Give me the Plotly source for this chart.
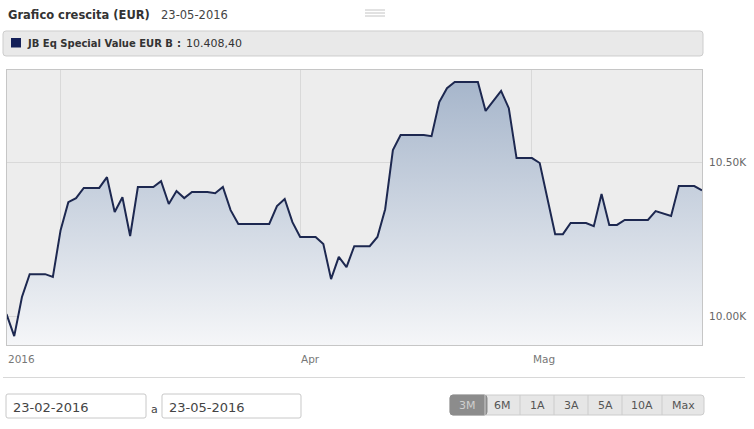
import pandas as pd
import plotly.graph_objects as go

# ---- data ----
start_date = "2016-02-23"
end_date = "2016-05-23"
values = [
    10006, 9935, 10062, 10136, 10136, 10136, 10127, 10279, 10370, 10383,
    10416, 10416, 10416, 10451, 10338, 10386, 10260, 10419, 10419, 10419,
    10438, 10364, 10406, 10383, 10403, 10403, 10403, 10399, 10419, 10344,
    10299, 10299, 10299, 10299, 10299, 10357, 10380, 10305, 10257, 10257,
    10257, 10234, 10120, 10192, 10159, 10227, 10227, 10227, 10257, 10347,
    10539, 10588, 10588, 10588, 10588, 10584, 10695, 10740, 10760, 10760,
    10760, 10760, 10666, 10698, 10731, 10675, 10513, 10513, 10513, 10497,
    10380, 10266, 10266, 10302, 10302, 10302, 10292, 10396, 10296, 10296,
    10312, 10312, 10312, 10312, 10341, 10334, 10325, 10422, 10422, 10422,
    10408.4,
]
dates = pd.date_range(start_date, end_date, freq="D")
x_tick_vals = ["2016-03-01", "2016-04-01", "2016-05-01"]
x_label_pos = ["2016-02-23", "2016-04-01", "2016-05-01"]
x_label_text = ["2016", "Apr", "Mag"]
y_tick_vals = [10000, 10500]
y_tick_text = ["10.00K", "10.50K"]
y_range = [9906, 10799]
series_name = "JB Eq Special Value EUR B"
last_value_text = "10.408,40"
title_text = "Grafico crescita (EUR)"
title_date = "23-05-2016"
from_date = "23-02-2016"
to_date = "23-05-2016"
buttons = ["3M", "6M", "1A", "3A", "5A", "10A", "Max"]

W, H = 754, 429
FONT = "DejaVu Sans"


def px(x):
    return x / W


def py(y):
    return 1 - y / H


def rrect(x0, y0, x1, y1, r):
    pts = [
        ("M", [(x0 + r, y0)]), ("L", [(x1 - r, y0)]), ("Q", [(x1, y0), (x1, y0 + r)]),
        ("L", [(x1, y1 - r)]), ("Q", [(x1, y1), (x1 - r, y1)]), ("L", [(x0 + r, y1)]),
        ("Q", [(x0, y1), (x0, y1 - r)]), ("L", [(x0, y0 + r)]), ("Q", [(x0, y0), (x0 + r, y0)]),
    ]
    s = ""
    for cmd, ps in pts:
        s += cmd + " " + " ".join(f"{px(a):.6f},{py(b):.6f}" for a, b in ps) + " "
    return s + "Z"


fig = go.Figure()
fig.add_trace(go.Scatter(
    x=dates, y=values, mode="lines",
    line=dict(color="#1d2850", width=2),
    fill="tozeroy",
    fillgradient=dict(type="vertical",
                      colorscale=[[0, "#f5f6f8"], [1, "#a3b3c9"]],
                      start=y_range[0], stop=y_range[1]),
    hoverinfo="skip", showlegend=False,
))

shapes = []
annotations = []

# title
annotations.append(dict(xref="paper", yref="paper", x=px(6), y=py(14.5), xanchor="left", yanchor="middle",
                        text=f"<b>{title_text}</b>", showarrow=False,
                        font=dict(family=FONT, size=11.5, color="#333333")))
annotations.append(dict(xref="paper", yref="paper", x=px(159), y=py(14.5), xanchor="left", yanchor="middle",
                        text=title_date, showarrow=False,
                        font=dict(family=FONT, size=11.5, color="#444444")))
# menu icon
for yy in (10, 13, 16):
    shapes.append(dict(type="line", xref="paper", yref="paper", x0=px(365), x1=px(385), y0=py(yy), y1=py(yy),
                       line=dict(color="#c4c4c4", width=1)))

# legend box
shapes.append(dict(type="path", xref="paper", yref="paper", path=rrect(3, 31, 703, 56, 3),
                   fillcolor="#e9e9e9", line=dict(color="#cdcdcd", width=1)))
shapes.append(dict(type="rect", xref="paper", yref="paper", x0=px(11), x1=px(21), y0=py(38), y1=py(47.5),
                   fillcolor="#142059", line=dict(width=0)))
annotations.append(dict(xref="paper", yref="paper", x=px(25), y=py(43), xanchor="left", yanchor="middle",
                        text=f"<b>{series_name}</b>", showarrow=False,
                        font=dict(family=FONT, size=10, color="#333333")))
annotations.append(dict(xref="paper", yref="paper", x=px(179), y=py(43), xanchor="center", yanchor="middle",
                        text="<b>:</b>", showarrow=False,
                        font=dict(family=FONT, size=10, color="#333333")))
annotations.append(dict(xref="paper", yref="paper", x=px(184), y=py(43), xanchor="left", yanchor="middle",
                        text=last_value_text, showarrow=False,
                        font=dict(family=FONT, size=11, color="#333333")))

# x-axis labels
for pos, txt in zip(x_label_pos, x_label_text):
    annotations.append(dict(xref="x", yref="paper", x=pos, y=py(359), xanchor="left", yanchor="middle",
                            text=txt, showarrow=False, xshift=-1,
                            font=dict(family=FONT, size=10.5, color="#777777")))

# separator
shapes.append(dict(type="line", xref="paper", yref="paper", x0=px(3), x1=px(745), y0=py(377.5), y1=py(377.5),
                   line=dict(color="#d8d8d8", width=1)))

# date inputs
for (x0, x1), txt in zip([(6, 146), (162, 301)], [from_date, to_date]):
    shapes.append(dict(type="path", xref="paper", yref="paper", path=rrect(x0, 394, x1, 418, 2),
                       fillcolor="#ffffff", line=dict(color="#c8c8c8", width=1)))
    annotations.append(dict(xref="paper", yref="paper", x=px(x0 + 5), y=py(407), xanchor="left", yanchor="middle",
                            text=txt, showarrow=False,
                            font=dict(family=FONT, size=13, color="#444444")))
annotations.append(dict(xref="paper", yref="paper", x=px(154), y=py(409), xanchor="center", yanchor="middle",
                        text="a", showarrow=False, font=dict(family=FONT, size=11, color="#444444")))

# range buttons
bx = [450, 485, 520, 554, 588, 622, 662, 704]
shapes.append(dict(type="path", xref="paper", yref="paper", path=rrect(bx[0], 395, bx[-1], 415, 3),
                   fillcolor="#e6e6e6", line=dict(color="#cccccc", width=1)))
shapes.append(dict(type="path", xref="paper", yref="paper", path=rrect(bx[0], 395, bx[1] + 2, 415, 3),
                   fillcolor="#8c8c8c", line=dict(color="#8c8c8c", width=1)))
shapes.append(dict(type="rect", xref="paper", yref="paper", x0=px(bx[1] - 3), x1=px(bx[1]), y0=py(395.5), y1=py(414.5),
                   fillcolor="#8c8c8c", line=dict(width=0)))
for i, b in enumerate(buttons):
    if i > 0:
        shapes.append(dict(type="line", xref="paper", yref="paper", x0=px(bx[i]), x1=px(bx[i]),
                           y0=py(395), y1=py(415), line=dict(color="#cccccc", width=1)))
    annotations.append(dict(xref="paper", yref="paper", x=px((bx[i] + bx[i + 1]) / 2), y=py(405.5),
                            xanchor="center", yanchor="middle", text=b, showarrow=False,
                            font=dict(family=FONT, size=11, color="#cfcfcf" if i == 0 else "#555555")))

fig.update_layout(
    width=W, height=H, autosize=False,
    margin=dict(l=0, r=0, t=0, b=0),
    paper_bgcolor="#ffffff", plot_bgcolor="#ededed",
    showlegend=False,
    shapes=shapes, annotations=annotations,
    xaxis=dict(domain=[px(6.5), px(702)], range=[dates[0], dates[-1]], type="date",
               tickvals=x_tick_vals, showticklabels=False, ticks="",
               showgrid=True, gridcolor="#d9d9d9", gridwidth=1, zeroline=False,
               showline=True, linecolor="#c6c6c6", linewidth=1, mirror=True),
    yaxis=dict(domain=[py(345), py(70)], range=y_range, side="right",
               tickvals=y_tick_vals, ticktext=y_tick_text, ticks="",
               ticklabelstandoff=4,
               tickfont=dict(family=FONT, size=10.5, color="#666666"),
               showgrid=True, gridcolor="#d9d9d9", gridwidth=1, zeroline=False,
               showline=True, linecolor="#c6c6c6", linewidth=1, mirror=True),
)

fig.write_html("out.html", config={"displayModeBar": False, "staticPlot": True},
               post_script="document.body.style.margin='0';document.body.style.overflow='hidden';")
